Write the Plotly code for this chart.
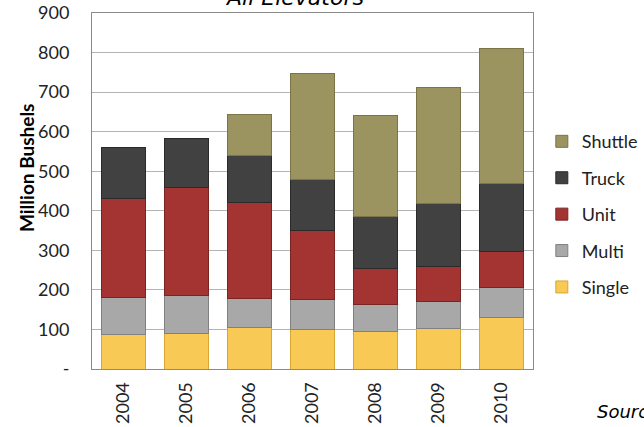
import plotly.graph_objects as go

years = ["2004", "2005", "2006", "2007", "2008", "2009", "2010"]
single = [86, 89, 104, 99, 94, 102, 131]
multi = [94, 98, 73, 76, 68, 68, 76]
unit = [250, 272, 244, 174, 91, 89, 89]
truck = [130, 124, 118, 129, 133, 159, 172]
shuttle = [None, None, 104, 268, 254, 293, 342]

y_tick_vals = [0, 100, 200, 300, 400, 500, 600, 700, 800, 900]
y_tick_text = ["-", "100", "200", "300", "400", "500", "600", "700", "800", "900"]

series = [
    ("Single", single, "#F8CA55", "#D9A535"),
    ("Multi", multi, "#A8A8A8", "#808080"),
    ("Unit", unit, "#A33432", "#7A2422"),
    ("Truck", truck, "#414141", "#2A2A2A"),
    ("Shuttle", shuttle, "#9C9460", "#7A7446"),
]

fig = go.Figure()
for i, (name, vals, col, edge) in enumerate(series):
    fig.add_trace(go.Bar(
        x=years, y=vals, name=name, legendgroup=name,
        legendrank=len(series) - i,
        marker=dict(color=col, line=dict(color=edge, width=1)),
    ))

FONT = "Lato"
fig.update_layout(
    width=644, height=427,
    barmode="stack", bargap=0.3,
    plot_bgcolor="white", paper_bgcolor="white",
    margin=dict(l=92, r=111, t=13, b=58, autoexpand=False),
    font=dict(family=FONT, size=18, color="#222"),
    showlegend=True,
    legend=dict(
        x=1.02, xanchor="left", y=0.435, yanchor="middle",
        traceorder="grouped", tracegroupgap=10,
        font=dict(family=FONT, size=18, color="#222"),
        bgcolor="rgba(0,0,0,0)",
    ),
    xaxis=dict(
        type="category", tickangle=-90, showline=True, mirror=True,
        linecolor="#8A8A8A", linewidth=1, ticks="", ticklabelstandoff=5,
        automargin=False,
        tickfont=dict(family=FONT, size=18, color="#222"),
    ),
    yaxis=dict(
        range=[0, 900], tickvals=y_tick_vals, ticktext=y_tick_text,
        showgrid=True, gridcolor="#B4B4B4", gridwidth=1,
        showline=True, mirror=True, linecolor="#8A8A8A", linewidth=1,
        ticks="", ticklabelstandoff=18, zeroline=False, automargin=False,
        tickfont=dict(family=FONT, size=18, color="#222"),
    ),
    annotations=[
        dict(text="<i>All Elevators</i>", xref="paper", yref="paper", x=0.46, y=1,
             xanchor="center", yanchor="bottom", yshift=1, showarrow=False,
             font=dict(family="DejaVu Sans", size=22, color="#000")),
        dict(text="<b>Million Bushels</b>", xref="paper", yref="paper",
             x=-0.147, y=0.565, xanchor="center", yanchor="middle",
             textangle=-90, showarrow=False,
             font=dict(family=FONT, size=19, color="#000")),
        dict(text="<i>Source: USDA</i>", xref="paper", yref="paper",
             x=(595 - 92) / 441, y=(368.5 - 411) / 355, xanchor="left", yanchor="middle",
             showarrow=False, font=dict(family="DejaVu Sans", size=18, color="#000")),
    ],
)

fig.write_html("out.html")
